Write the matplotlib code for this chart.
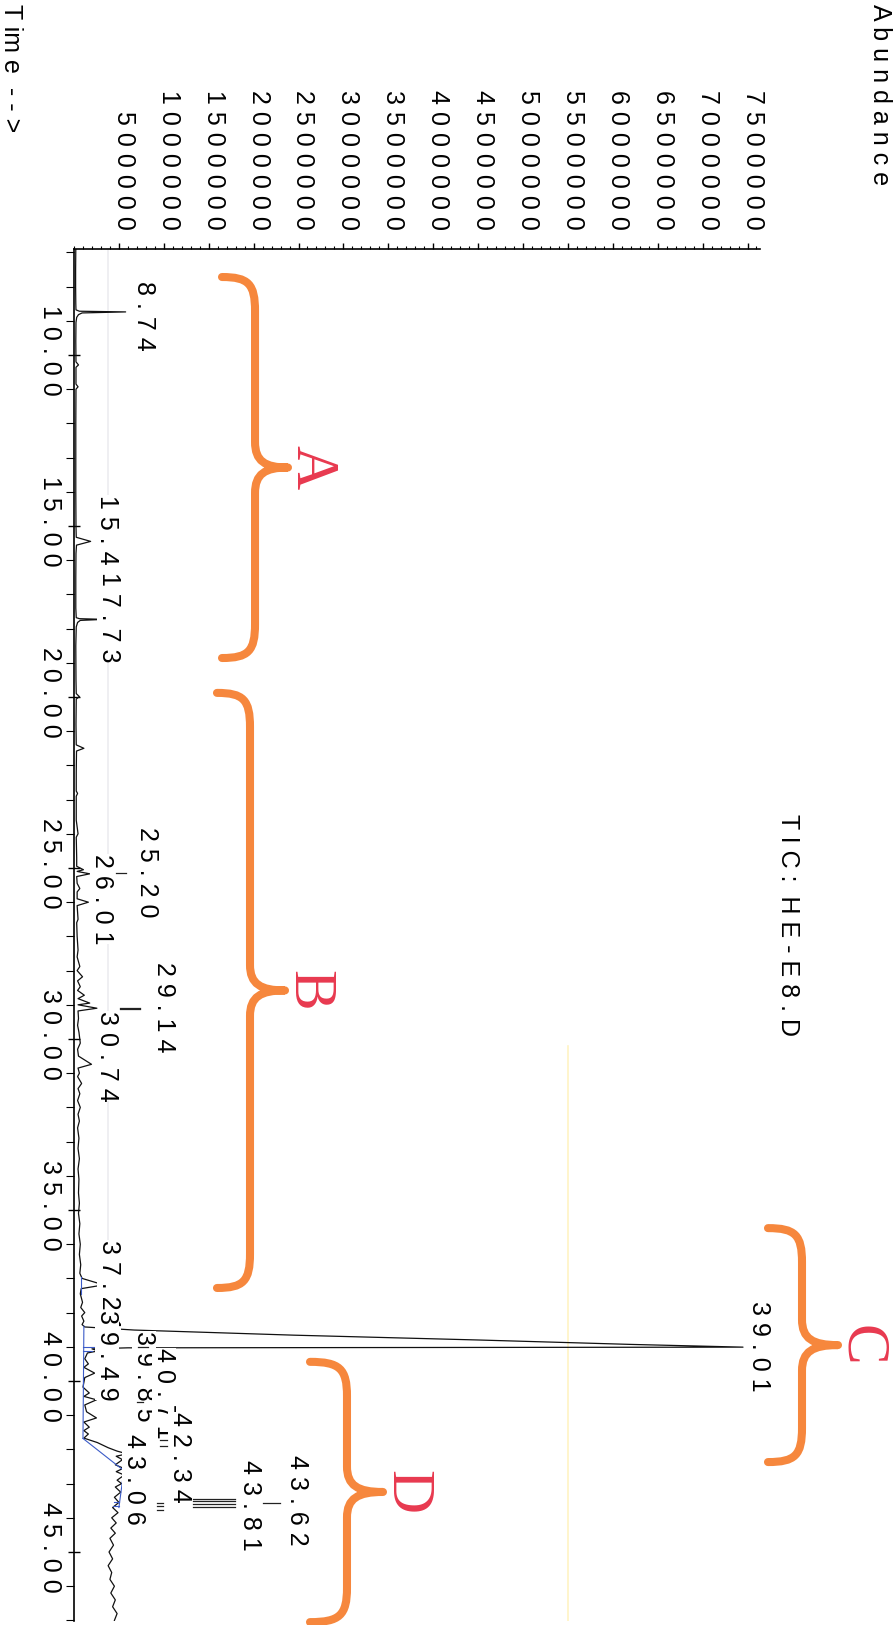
import numpy as np
import matplotlib.pyplot as plt
import matplotlib.transforms as mtransforms
from matplotlib.path import Path
from matplotlib.patches import PathPatch
from matplotlib.ticker import MultipleLocator

# ── Figure geometry (pixels) ─────────────────────────────────
W, H, DPI = 894, 1625, 100
AX_L, AX_R = 74, 760          # abundance axis: 0 at AX_L
AX_T, AX_B = 249, 1621        # time axis: top / bottom

FONT = ['Liberation Sans', 'DejaVu Sans']
SERIF = ['Liberation Serif', 'DejaVu Serif']
ORANGE = '#F6873D'
RED = '#E8394F'
BLUE = '#3B5BC8'

# ── TIC trace (time in min, abundance in thousands) ──────────
seg1_t = [6.90, 7.50, 8.00, 8.50, 8.68, 8.72, 8.74, 8.77, 8.82, 8.90, 9.05, 9.60,
          10.20, 10.29, 10.36, 10.85, 10.93, 11.00, 12.00, 13.00, 14.00, 15.00,
          15.33, 15.45, 15.56, 15.80, 16.50, 17.40, 17.68, 17.71, 17.73, 17.76,
          17.82, 17.95, 18.50, 19.50, 19.90, 19.99, 20.06]
seg1_k = [20, 18, 18, 20, 22, 60, 575, 90, 50, 30, 22, 20,
          22, 50, 22, 22, 45, 22, 20, 20, 20, 22,
          25, 185, 28, 22, 20, 20, 25, 60, 335, 70,
          40, 25, 20, 22, 25, 60, 25]

seg2_t = [20.80, 21.40, 21.50, 21.58, 22.20, 22.75, 22.82, 22.90, 23.60, 24.00,
          24.10, 24.70, 24.95, 25.05, 25.10, 25.17, 25.25, 25.45, 25.60, 25.70,
          25.90, 26.00, 26.10, 26.50, 26.60, 27.00, 27.40, 27.60, 27.88, 28.00,
          28.18, 28.30, 28.47, 28.58, 28.72, 28.82, 28.95, 29.00, 29.10, 29.18,
          29.40, 29.60, 29.80, 30.12, 30.30, 30.50, 30.74, 30.85, 31.00, 31.10,
          31.30, 31.45, 31.60, 31.80, 32.00, 32.20, 32.40, 32.60, 32.90, 33.20,
          33.50, 33.80]
seg2_k = [22, 25, 110, 28, 25, 25, 40, 25, 25, 45,
          25, 30, 30, 105, 35, 175, 30, 35, 65, 35,
          35, 160, 35, 45, 30, 35, 45, 35, 65, 35,
          95, 40, 70, 40, 115, 45, 175, 45, 255, 45,
          50, 40, 55, 70, 40, 50, 195, 45, 60, 40,
          85, 45, 65, 40, 70, 45, 60, 40, 55, 45,
          60, 45]

seg3_t = [34.10, 34.50, 34.80, 35.10, 35.40, 35.70, 36.00, 36.30, 36.60, 36.85,
          37.00, 37.19, 37.30, 37.45, 37.70, 37.85, 38.00, 38.10, 38.25, 38.35,
          38.42, 38.51, 38.66, 38.80, 38.93, 39.01, 39.02, 39.03, 39.06, 39.12,
          39.18, 39.35, 39.50, 39.60, 39.77, 39.90, 40.18, 40.35, 40.45, 40.55,
          40.70, 40.90, 41.08, 41.20, 41.35, 41.45, 41.55, 41.67]
seg3_k = [55, 50, 60, 50, 65, 55, 70, 60, 75, 65,
          90, 330, 80, 70, 95, 75, 120, 85, 110, 90,
          120, 670, 2450, 4490, 6200, 7450, 3500, 600, 200, 270,
          150, 120, 160, 110, 230, 120, 100, 170, 110, 250,
          120, 140, 250, 110, 170, 110, 160, 110]

seg4_t = [41.80, 41.95, 42.05, 42.13, 42.20, 42.30, 42.45, 42.55, 42.65, 42.75,
          42.90, 43.00, 43.10, 43.25, 43.40, 43.55, 43.70, 43.85, 44.00, 44.15,
          44.30, 44.45, 44.60, 44.80, 45.00, 45.20, 45.40, 45.60, 45.80, 46.00,
          46.20, 46.40, 46.60, 46.80, 47.00]
seg4_k = [260, 380, 480, 590, 470, 540, 460, 550, 470, 560,
          480, 530, 460, 520, 450, 500, 430, 490, 420, 470,
          410, 460, 400, 440, 390, 430, 380, 420, 400, 450,
          410, 460, 430, 480, 450]

# integration baselines (blue): t0, k0, t1, k1
base_t0 = [36.95, 38.40, 41.68, 42.62]
base_k0 = [75, 110, 100, 555]
base_t1 = [37.45, 41.68, 42.62, 43.70]
base_k1 = [75, 100, 555, 500]
# drop lines (blue): t, k from, k to
drop_t = [39.02, 39.13, 42.72, 43.55, 43.66]
drop_k0 = [105, 105, 555, 505, 500]
drop_k1 = [250, 200, 610, 440, 430]

# peak labels
peak_text = ["8.74", "15.43", "17.73", "25.20", "26.01", "29.14", "30.74",
             "37.21", "39.49", "39.85", "40.71", "42.34", "43.06", "43.81",
             "43.62", "39.01"]
# label placement (centre time, abundance in thousands at label start)
lab_t = [8.86, 15.41, 17.66, 25.12, 25.91, 29.06, 30.50,
         37.19, 39.24, 39.85, 40.35, 42.22, 42.89, 43.63,
         43.48, 39.00]
lab_k = [646, 234, 256, 679, 178, 869, 234,
         256, 234, 646, 869, 1047, 535, 1826,
         2350, 7495]

# leader marks: t, k from, k to
mark_t = [25.15, 29.08, 29.12, 39.00, 40.61, 41.72, 41.90,
          43.57, 43.66, 43.77, 43.44, 43.52, 43.60, 43.68, 43.57]
mark_k0 = [468, 512, 512, 713, 702, 958, 958,
           924, 924, 924, 1325, 1325, 1325, 1325, 2105]
mark_k1 = [579, 735, 735, 824, 768, 1036, 1036,
           991, 991, 991, 1793, 1793, 1793, 1793, 2294]

abund_ticks = [500000, 1000000, 1500000, 2000000, 2500000, 3000000, 3500000,
               4000000, 4500000, 5000000, 5500000, 6000000, 6500000, 7000000,
               7500000]
time_ticks = [10, 15, 20, 25, 30, 35, 40, 45]

# braces: t_top, t_bottom, k_end, k_spine, k_tip ; letter
brace_tt = [7.72, 19.88, 35.53, 39.44]
brace_tb = [18.86, 37.28, 42.37, 47.05]
brace_ke = [1648, 1592, 7728, 2628]
brace_ks = [2016, 1960, 8107, 3040]
brace_kt = [2383, 2350, 8508, 3441]
brace_letter = ["A", "B", "C", "D"]


def spaced(s):
    return " ".join(s)


def brace_path(tt, tb, ke, ks, kt, r=1.0, rt=0.75):
    tm = 0.5 * (tt + tb)
    ke, ks, kt = ke * 1e3, ks * 1e3, kt * 1e3
    verts = [(ke, tt),
             (ke + 0.8 * (ks - ke), tt), (ks, tt + 0.2 * r), (ks, tt + r),
             (ks, tm - rt),
             (ks, tm - 0.25 * rt), (ks + 0.3 * (kt - ks), tm), (kt, tm),
             (ks + 0.3 * (kt - ks), tm), (ks, tm + 0.25 * rt), (ks, tm + rt),
             (ks, tb - r),
             (ks, tb - 0.2 * r), (ke + 0.8 * (ks - ke), tb), (ke, tb)]
    codes = [Path.MOVETO,
             Path.CURVE4, Path.CURVE4, Path.CURVE4,
             Path.LINETO,
             Path.CURVE4, Path.CURVE4, Path.CURVE4,
             Path.CURVE4, Path.CURVE4, Path.CURVE4,
             Path.LINETO,
             Path.CURVE4, Path.CURVE4, Path.CURVE4]
    return Path(verts, codes)


# ── Figure ───────────────────────────────────────────────────
fig = plt.figure(figsize=(W / DPI, H / DPI), dpi=DPI)
ax = fig.add_axes([AX_L / W, 1 - AX_B / H, (AX_R - AX_L) / W, (AX_B - AX_T) / H])
px_per_min = 34.2
px_per_unit = 44.9 / 500000
ax.set_xlim(0, (AX_R - AX_L) / px_per_unit)
t_top = 10 + (AX_T - 355) / px_per_min
t_bot = 10 + (AX_B - 355) / px_per_min
ax.set_ylim(t_bot, t_top)

for s in ['right', 'bottom']:
    ax.spines[s].set_visible(False)
for s in ['top', 'left']:
    ax.spines[s].set_linewidth(1.2)

ax.xaxis.set_ticks_position('top')
ax.set_xticks(abund_ticks, [spaced(str(v)) for v in abund_ticks],
              rotation=270, fontsize=18, family=FONT)
ax.set_yticks(time_ticks, [spaced(f"{v:.2f}") for v in time_ticks],
              rotation=270, fontsize=18, family=FONT)
ax.xaxis.set_minor_locator(MultipleLocator(100000))
ax.yaxis.set_minor_locator(MultipleLocator(1))
ax.tick_params(axis='x', which='major', direction='out', length=4.5, width=1, pad=9.5)
ax.tick_params(axis='x', which='minor', direction='out', length=2.5, width=0.8)
ax.tick_params(axis='y', which='major', direction='inout', length=9, width=1, pad=4.3)
ax.tick_params(axis='y', which='minor', direction='out', length=5.8, width=0.8)

dx = mtransforms.ScaledTranslation(5 / DPI, 0, fig.dpi_scale_trans)
dy = mtransforms.ScaledTranslation(0, 5 / DPI, fig.dpi_scale_trans)
for lbl in ax.get_xticklabels():
    lbl.set_transform(lbl.get_transform() + dx)
for lbl in ax.get_yticklabels():
    lbl.set_va('center')
    lbl.set_transform(lbl.get_transform() + dy)

# faint scan lines
ax.axvline((108 - AX_L) / px_per_unit, ymin=0.177, ymax=1, color='#ececf0', lw=1.2, zorder=0)
ax.axvline((568 - AX_L) / px_per_unit, ymin=0, ymax=0.419, color='#fff4c4', lw=1.2, zorder=0)

# trace
tt = np.concatenate([seg1_t, seg2_t, seg3_t, seg4_t])
kk = np.concatenate([seg1_k, seg2_k, seg3_k, seg4_k]) * 1e3
ax.plot(kk, tt, color='#111111', lw=0.9, zorder=2)

for t0, k0, t1, k1 in zip(base_t0, base_k0, base_t1, base_k1):
    ax.plot([k0 * 1e3, k1 * 1e3], [t0, t1], color=BLUE, lw=0.8, zorder=2.5)
for t, k0, k1 in zip(drop_t, drop_k0, drop_k1):
    ax.plot([k0 * 1e3, k1 * 1e3], [t, t], color=BLUE, lw=0.8, zorder=2.5)

for i, (txt, t, k) in enumerate(zip(peak_text, lab_t, lab_k)):
    ax.text(k * 1e3, t, spaced(txt), rotation=270, ha='left', va='center',
            fontsize=18, family=FONT, zorder=3 + 0.01 * i,
            bbox=dict(facecolor='white', edgecolor='none', pad=0))

for t, k0, k1 in zip(mark_t, mark_k0, mark_k1):
    ax.plot([k0 * 1e3, k1 * 1e3], [t, t], color='#222222', lw=0.9, zorder=4)

# braces and letters
for tt_, tb_, ke, ks, kt, letter in zip(brace_tt, brace_tb, brace_ke, brace_ks,
                                        brace_kt, brace_letter):
    patch = PathPatch(brace_path(tt_, tb_, ke, ks, kt), fill=False, ec=ORANGE,
                      lw=5.8, capstyle='round', joinstyle='round',
                      clip_on=False, zorder=5)
    ax.add_patch(patch)
    ax.text((kt + 255) * 1e3, 0.5 * (tt_ + tb_),
            letter, rotation=270, ha='center', va='center', fontsize=44,
            family=SERIF, color=RED, clip_on=False, zorder=5)

# text outside the axes
fig.text(788 / W, 1 - 925 / H, "T I C :  H E - E 8 . D", rotation=270,
         ha='center', va='center', fontsize=18, family=FONT)
fig.text(880 / W, 1 - 4 / H, spaced("Abundance"), rotation=270,
         ha='center', va='top', fontsize=18, family=FONT)
fig.text(11 / W, 1 - 4 / H, "T im e  - - >", rotation=270,
         ha='center', va='top', fontsize=18, family=FONT)

fig.savefig("out.png", dpi=DPI)
